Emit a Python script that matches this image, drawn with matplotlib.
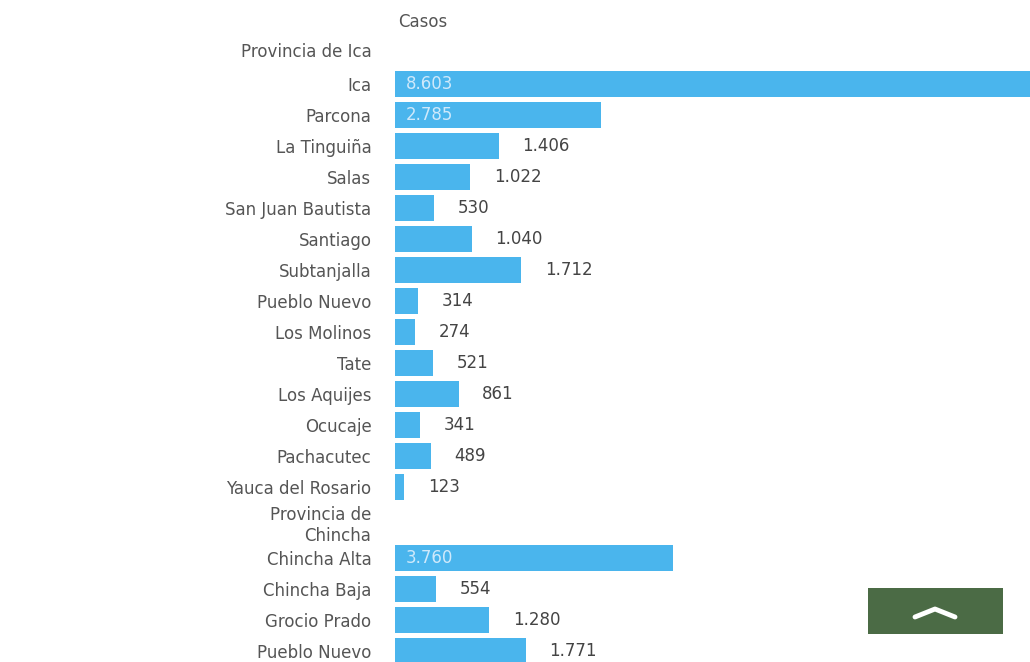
import matplotlib.pyplot as plt
import matplotlib.patches as patches
from matplotlib.lines import Line2D

# rows of the table; None marks a province header (no bar)
labels = ["Provincia de Ica", "Ica", "Parcona", "La Tinguiña", "Salas",
          "San Juan Bautista", "Santiago", "Subtanjalla", "Pueblo Nuevo",
          "Los Molinos", "Tate", "Los Aquijes", "Ocucaje", "Pachacutec",
          "Yauca del Rosario", "Provincia de\nChincha", "Chincha Alta",
          "Chincha Baja", "Grocio Prado", "Pueblo Nuevo"]
casos = [None, 8603, 2785, 1406, 1022, 530, 1040, 1712, 314, 274, 521, 861,
         341, 489, 123, None, 3760, 554, 1280, 1771]
inside = [False, True, True] + [False] * 13 + [True, False, False, False]

W, H = 1030, 662
bar_color = "#4ab5ed"
text_color = "#555555"

fig = plt.figure(figsize=(W / 100, H / 100), dpi=100)
ax = fig.add_axes([395 / W, 0, 1 - 395 / W, 1])

# row centres in pixel units (headers take a bit more room)
ys = []
top = 31.5
for lab, v in zip(labels, casos):
    half = 15.5 if v is not None else 18.5 + 1.5 * lab.count("\n")
    ys.append(top + half)
    top += 2 * half

for y, v, ins in zip(ys, casos, inside):
    if v is None:
        continue
    ax.barh(y, v, height=26, color=bar_color)
    txt = f"{v:,}".replace(",", ".")
    if ins:
        ax.annotate(txt, (0, y), xytext=(8, 0), textcoords="offset points",
                    va="center", ha="left", fontsize=12, color="#cfe9fb")
    else:
        ax.annotate(txt, (v, y), xytext=(17, 0), textcoords="offset points",
                    va="center", ha="left", fontsize=12, color="#444444")

ax.set_xlim(0, 8603)
ax.set_ylim(H, 0)
ax.set_yticks(ys)
ax.set_yticklabels(labels, fontsize=12, color=text_color)
ax.tick_params(axis="y", length=0, pad=17)
ax.set_xticks([])
for s in ax.spines.values():
    s.set_visible(False)

fig.text(398 / W, 1 - 22 / H, "Casos", fontsize=12, color=text_color,
         ha="left", va="center")

# scroll-to-top button
fig.add_artist(patches.Rectangle((868 / W, 1 - 634 / H), 135 / W, 46 / H,
                                 transform=fig.transFigure,
                                 facecolor="#4b6b45", edgecolor="none"))
fig.add_artist(Line2D([915 / W, 935 / W, 955 / W],
                      [1 - 617 / H, 1 - 609 / H, 1 - 617 / H],
                      transform=fig.transFigure, color="white", lw=3.5,
                      solid_capstyle="round", solid_joinstyle="round"))

fig.savefig("out.png", dpi=100, facecolor="white")
